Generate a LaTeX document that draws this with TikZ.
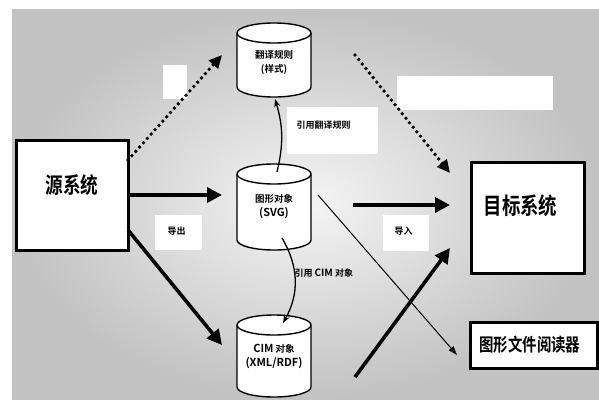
\documentclass[tikz,border=0pt]{standalone}
\usepackage{fontspec}
\setmainfont{Noto Sans CJK SC}[BoldFont={Noto Sans CJK SC Bold}]
\newfontfamily\narrowcjk{Noto Sans CJK SC Bold}[FakeStretch=0.8]
\usetikzlibrary{arrows.meta,backgrounds}

\tikzset{
  sysbox/.style={draw, line width=3pt, fill=white, inner sep=0pt, outer sep=0pt},
  drumbox/.style={minimum width=74pt, inner sep=0pt, outer sep=0pt, align=center,
                  font=\bfseries\fontsize{9.5}{14}\selectfont},
  drumline/.style={line width=1.4pt, fill=white},
  blank/.style={fill=white, draw=none, inner sep=0pt, outer sep=0pt},
  tag/.style={font=\bfseries\fontsize{9}{11}\selectfont},
  dotarrow/.style={line width=3.8pt, line cap=round, dash pattern=on 0pt off 5.8pt,
                   -{Triangle[length=13pt,width=12pt]}},
  bigarrow/.style={line width=3.6pt, -{Triangle[length=15pt,width=15pt]}},
  thinarrow/.style={line width=1pt, -{Triangle[length=9pt,width=6pt]}},
  refarrow/.style={line width=1.3pt, -{Stealth[length=8pt,width=6pt]}},
}

% cylinder outline drawn around a named rectangle node
\newcommand\drumshape[1]{%
  \filldraw[drumline] ([yshift=-10pt]#1.north west) -- ([yshift=10pt]#1.south west)
    arc[start angle=180,end angle=360,x radius=37pt,y radius=10pt]
    -- ([yshift=-10pt]#1.north east)
    arc[start angle=0,end angle=180,x radius=37pt,y radius=10pt] -- cycle;
  \draw[line width=1.4pt] ([yshift=-10pt]#1.north east)
    arc[start angle=0,end angle=-180,x radius=37pt,y radius=10pt];
}

\begin{document}
\begin{tikzpicture}[x=1pt,y=-1pt]
\useasboundingbox (0,0) rectangle (599,399);

% systems
\node[sysbox, minimum width=112pt, minimum height=110pt,
      label={[name=srcText, font=\narrowcjk\fontsize{22}{24}\selectfont, yshift=10pt]center:源系统}]
      (src) at (72,195) {};
\node[sysbox, minimum width=113pt, minimum height=111pt,
      label={[name=tgtText, font=\narrowcjk\fontsize{23}{26}\selectfont, xshift=-7pt, yshift=12pt]center:目标系统}]
      (tgt) at (527.5,217.5) {};
\node[sysbox, minimum width=127pt, minimum height=46pt,
      label={[name=rdrText, font=\narrowcjk\fontsize{18}{20}\selectfont, anchor=west, xshift=6pt]west:图形文件阅读器}]
      (rdr) at (533.5,345) {};

% data stores
\node[drumbox, minimum height=74pt] (rules) at (274,60) {\\[-2pt]翻译规则\\(样式)};
\node[drumbox, minimum height=86pt] (svg) at (274,207) {图形对象\\{\fontsize{11}{14}\selectfont (SVG)}};
\node[drumbox, minimum height=82pt] (cim) at (274,356) {{\fontsize{11}{14}\selectfont CIM} 对象\\{\fontsize{11}{14}\selectfont (XML/RDF)}};

% white label panels
\node[blank, minimum width=24pt, minimum height=34pt] (blankA) at (175,82) {};
\node[blank, minimum width=156pt, minimum height=34pt] (blankB) at (475,93) {};
\node[blank, minimum width=91pt, minimum height=47pt,
      label={[tag, anchor=west, xshift=6pt, yshift=5pt]west:引用翻译规则}] (refRules) at (332.5,130.5) {};
\node[blank, minimum width=47pt, minimum height=35pt,
      label={[tag, anchor=west, xshift=9pt, yshift=1pt]west:导出}] (exportBox) at (178.5,232.5) {};
\node[blank, minimum width=46pt, minimum height=36pt,
      label={[tag, anchor=west, xshift=8pt, yshift=2pt]west:导入}] (importBox) at (406,233) {};
\node[tag, anchor=west] (refCim) at (291,273) {引用 {\fontsize{10}{12}\selectfont CIM} 对象};

% background and cylinder bodies
\begin{scope}[on background layer]
  \shade[inner color=black!4, outer color=black!24] (12,9) rectangle (599,399);
  \drumshape{rules}
  \drumshape{svg}
  \drumshape{cim}
\end{scope}

% connectors
\draw[dotarrow] ([yshift=-20pt]src.north east) -- ([xshift=-15pt,yshift=5pt]rules.west);
\draw[dotarrow] ([xshift=44pt,yshift=5pt]rules.east) -- ([xshift=-21pt,yshift=-11pt]tgt.north west);
\draw[bigarrow] (src.east) -- ([xshift=-15pt]src.east -| svg.west);
\draw[bigarrow] ([yshift=-35pt]src.east) -- ([xshift=-15pt,yshift=11pt]cim.west);
\draw[bigarrow] ([xshift=42pt,yshift=2pt]svg.east) -- ([xshift=-21pt,yshift=12.5pt]tgt.west);
\draw[bigarrow] ([xshift=44pt,yshift=-21pt]cim.east) -- ([xshift=-21pt,yshift=-30.5pt]tgt.west);
\draw[thinarrow] ([xshift=7pt,yshift=12pt]svg.east) -- ([xshift=-13pt,yshift=-10pt]rdr.west);
\draw[refarrow] ([xshift=3pt,yshift=-8pt]svg.north) to[bend right=15] ([xshift=1pt,yshift=-2pt]rules.south);
\draw[refarrow] ([xshift=8pt,yshift=12pt]svg.south) to[bend left=30] ([xshift=9pt,yshift=-8pt]cim.north);
\end{tikzpicture}
\end{document}
